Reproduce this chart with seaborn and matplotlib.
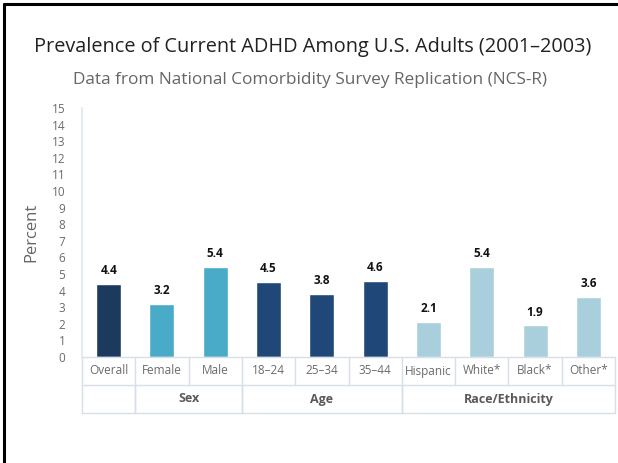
import matplotlib
matplotlib.use("Agg")
import matplotlib.pyplot as plt
from matplotlib.lines import Line2D
import seaborn as sns
import pandas as pd

# Prevalence of current ADHD among U.S. adults, NCS-R 2001-2003
categories = ["Overall", "Female", "Male", "18–24", "25–34", "35–44",
              "Hispanic", "White*", "Black*", "Other*"]
values = [4.4, 3.2, 5.4, 4.5, 3.8, 4.6, 2.1, 5.4, 1.9, 3.6]
groups = ["Overall", "Sex", "Sex", "Age", "Age", "Age",
          "Race/Ethnicity", "Race/Ethnicity", "Race/Ethnicity", "Race/Ethnicity"]
group_labels = {"Overall": "", "Sex": "Sex", "Age": "Age",
                "Race/Ethnicity": "Race/Ethnicity"}
group_colors = {"Overall": "#1b3a5e", "Sex": "#4aabc8",
                "Age": "#1f4778", "Race/Ethnicity": "#a9cfdc"}
y_ticks = list(range(0, 16))

sns.set_theme(style="white")
plt.rcParams["font.family"] = ["Open Sans", "DejaVu Sans"]

W, H = 618, 463
fig = plt.figure(figsize=(W / 100, H / 100), dpi=100)
fig.patch.set_facecolor("white")

ax_left, ax_right, ax_bottom, ax_top = 82, 615, 357, 108
ax_w = ax_right - ax_left
ax = fig.add_axes([ax_left / W, 1 - ax_bottom / H,
                   ax_w / W, (ax_bottom - ax_top) / H])

df = pd.DataFrame({"category": categories, "value": values, "group": groups})
sns.barplot(data=df, x="category", y="value", hue="group", order=categories,
            palette=group_colors, dodge=False, width=0.47, saturation=1,
            legend=False, ax=ax)

for cont in ax.containers:
    ax.bar_label(cont, fmt="%.1f", padding=5, fontsize=8.5, fontweight="bold",
                 color="#111111")

ax.set_xlim(-0.5, len(categories) - 0.5)
ax.set_ylim(0, 15)
ax.set_yticks(y_ticks)
ax.set_yticklabels([str(t) for t in y_ticks])
ax.tick_params(axis="y", length=0, pad=12, labelsize=8.5, labelcolor="#6b6b6b")
ax.set_xticks([])
ax.set_xlabel("")
for s in ["top", "right", "bottom"]:
    ax.spines[s].set_visible(False)
ax.spines["left"].set_color("#dde7ec")
ax.spines["left"].set_linewidth(1.2)

# Category table beneath the axis
grid_c = "#d6dee8"
row_h = 28 / (ax_bottom - ax_top)
trans = ax.get_xaxis_transform()
n = len(categories)
x0, x1 = -0.5, n - 0.5
for yy in [0, -row_h, -2 * row_h]:
    ax.add_line(Line2D([x0, x1], [yy, yy], transform=trans, color=grid_c,
                       lw=1, clip_on=False))
for i in range(n + 1):
    ax.add_line(Line2D([i - 0.5, i - 0.5], [0, -row_h], transform=trans,
                       color=grid_c, lw=1, clip_on=False))
for i, cat in enumerate(categories):
    ax.text(i, -row_h / 2, cat, transform=trans, ha="center", va="center",
            fontsize=8.5, color="#6b6b6b")

# group spans in the second row
spans = []
start = 0
for i in range(1, n + 1):
    if i == n or groups[i] != groups[start]:
        spans.append((groups[start], start, i - 1))
        start = i
for g, a, b in spans:
    for xb in (a - 0.5, b + 0.5):
        ax.add_line(Line2D([xb, xb], [-row_h, -2 * row_h], transform=trans,
                           color=grid_c, lw=1, clip_on=False))
    ax.text((a + b) / 2, -1.5 * row_h, group_labels[g], transform=trans,
            ha="center", va="center", fontsize=9, fontweight="bold",
            color="#5a5a5a")

ax.set_ylabel("Percent", fontsize=12, color="#666666")
ax.yaxis.set_label_coords((39 - ax_left) / ax_w, 0.5)

fig.text(313 / W, 1 - 47 / H, "Prevalence of Current ADHD Among U.S. Adults (2001–2003)",
         ha="center", va="center", fontsize=14.3, color="#222222")
fig.text(310 / W, 1 - 80 / H, "Data from National Comorbidity Survey Replication (NCS-R)",
         ha="center", va="center", fontsize=12.4, color="#666666")

# frame lines along the top and left edges
fig.add_artist(Line2D([4 / W, 4 / W], [0, 1 - 4 / H], transform=fig.transFigure,
                      color="black", lw=2.2))
fig.add_artist(Line2D([4 / W, 1], [1 - 4 / H, 1 - 4 / H], transform=fig.transFigure,
                      color="black", lw=2.2))

fig.savefig("out.png", dpi=100, facecolor="white")
